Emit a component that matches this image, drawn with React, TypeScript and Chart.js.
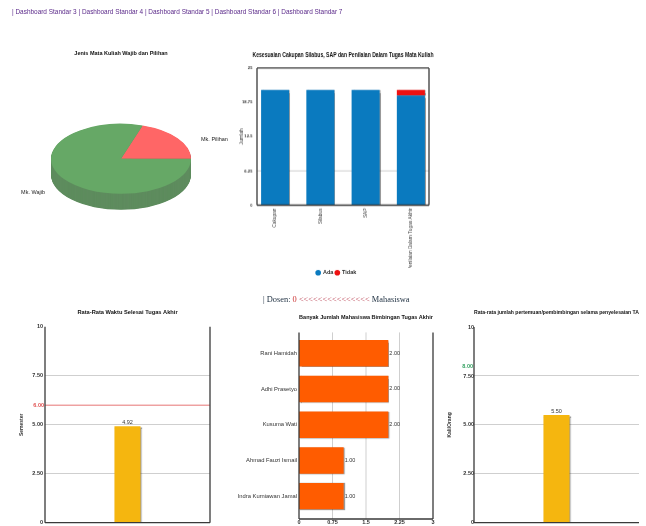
import React, { useEffect, useRef } from "react";
import { Chart, registerables } from "chart.js";
Chart.register(...registerables);

const navLinks = ["Dashboard Standar 3", "Dashboard Standar 4", "Dashboard Standar 5", "Dashboard Standar 6", "Dashboard Standar 7"];

const pieLabels = ["Mk. Pilihan", "Mk. Wajib"];
const pieValues = [20, 80];
const pieColors = ["#ff6666", "#66a866"];
const pieSideColors = ["#bb5555", "#5e8c5e"];

const coverageLabels = ["Cakupan", "Silabus", "SAP", "Penilaian Dalam Tugas Akhir"];
const coverageYes = [21, 21, 21, 20];
const coverageNo = [0, 0, 0, 1];
const coverageTicks = [0, 6.25, 12.5, 18.75, 25];

const waktuLabels = ["Rata-rata"];
const waktuValues = [4.92];
const waktuTarget = 6;

const dosenNames = ["Rani Hamidah", "Adhi Prasetyo", "Kusuma Wati", "Ahmad Fauzi Ismail", "Indra Kurniawan Jamal"];
const dosenCounts = [2, 2, 2, 1, 1];
const dosenTicks = [0, 0.75, 1.5, 2.25, 3];

const pertemuanLabels = ["Rata-rata"];
const pertemuanValues = [5.5];
const pertemuanTarget = 8;

const verticalTicks = [0, 2.5, 5, 7.5, 10];

const FONT = "'Liberation Sans'";
const tickFont = { family: FONT, size: 5.5, weight: "bold" as const };
const DARK = "#3a3a3a";
const GRID = "#cfcfcf";

const valueLabels = (fmt: (v: number) => string) => ({
  id: "valueLabels",
  afterDatasetsDraw(chart: any) {
    const ctx = chart.ctx;
    const horizontal = chart.options.indexAxis === "y";
    ctx.save();
    ctx.fillStyle = "#333";
    ctx.font = `5.5px ${FONT}`;
    chart.getDatasetMeta(0).data.forEach((el: any, i: number) => {
      const v = chart.data.datasets[0].data[i];
      if (horizontal) {
        ctx.textAlign = "left";
        ctx.textBaseline = "middle";
        ctx.fillText(fmt(v), el.x + 1, el.y);
      } else {
        ctx.textAlign = "center";
        ctx.textBaseline = "bottom";
        ctx.fillText(fmt(v), el.x, el.y - 1);
      }
    });
    ctx.restore();
  },
});

const barShadow = {
  id: "barShadow",
  beforeDatasetsDraw(chart: any) {
    chart.ctx.save();
    chart.ctx.shadowColor = "rgba(0,0,0,0.4)";
    chart.ctx.shadowOffsetX = 1;
    chart.ctx.shadowOffsetY = 0.5;
    chart.ctx.shadowBlur = 1;
  },
  afterDatasetsDraw(chart: any) {
    chart.ctx.restore();
  },
};

type Inset = { x?: number; top?: number; bottom?: number };

const axisFrame = (sides: string[], inset: Inset = {}) => ({
  id: "axisFrame",
  afterDraw(chart: any) {
    const { ctx, chartArea: a } = chart;
    const l = a.left + (inset.x || 0);
    const r = a.right - (inset.x || 0);
    const t = a.top - (inset.top || 0);
    const b = a.bottom + (inset.bottom || 0);
    ctx.save();
    ctx.strokeStyle = DARK;
    ctx.lineWidth = 1.3;
    ctx.beginPath();
    if (sides.includes("l")) { ctx.moveTo(l, t); ctx.lineTo(l, b); }
    if (sides.includes("b")) { ctx.moveTo(l, b); ctx.lineTo(r, b); }
    if (sides.includes("r")) { ctx.moveTo(r, t); ctx.lineTo(r, b); }
    if (sides.includes("t")) { ctx.moveTo(l, t); ctx.lineTo(r, t); }
    ctx.stroke();
    ctx.restore();
  },
});

const customGrid = (axis: "x" | "y", values: number[], inset: Inset = {}) => ({
  id: "customGrid",
  beforeDatasetsDraw(chart: any) {
    const { ctx, chartArea: a, scales } = chart;
    ctx.save();
    ctx.strokeStyle = GRID;
    ctx.lineWidth = 1;
    ctx.beginPath();
    values.forEach((v) => {
      const p = scales[axis].getPixelForValue(v);
      if (axis === "y") {
        ctx.moveTo(a.left + (inset.x || 0), p);
        ctx.lineTo(a.right - (inset.x || 0), p);
      } else {
        ctx.moveTo(p, a.top - (inset.top || 0));
        ctx.lineTo(p, a.bottom + (inset.bottom || 0));
      }
    });
    ctx.stroke();
    ctx.restore();
  },
});

const targetLine = (value: number, color: string, drawLine: boolean) => ({
  id: "targetLine",
  afterDatasetsDraw(chart: any) {
    const { ctx, chartArea: a, scales } = chart;
    const y = scales.y.getPixelForValue(value);
    ctx.save();
    if (drawLine) {
      ctx.strokeStyle = color;
      ctx.lineWidth = 0.8;
      ctx.beginPath();
      ctx.moveTo(a.left, y);
      ctx.lineTo(a.right, y);
      ctx.stroke();
    }
    ctx.fillStyle = color;
    ctx.font = `bold 5.5px ${FONT}`;
    ctx.textAlign = "right";
    ctx.textBaseline = "middle";
    ctx.fillText(value.toFixed(2), a.left - 1, y);
    ctx.restore();
  },
});

const pie3d = {
  id: "pie3d",
  beforeDatasetDraw(chart: any) {
    const { ctx } = chart;
    const el = chart.getDatasetMeta(0).data[0];
    const squash = 0.5;
    const cx = el.x;
    const cy = el.y;
    const r = el.outerRadius;
    const depth = 16;
    ctx.save();
    ctx.translate(cx, cy);
    ctx.scale(1, squash);
    ctx.translate(-cx, -cy);
    chart.getDatasetMeta(0).data.forEach((arc: any, i: number) => {
      ctx.fillStyle = pieSideColors[i];
      for (let d = depth; d > 0; d -= 0.5) {
        ctx.beginPath();
        ctx.moveTo(cx, cy + d / squash);
        ctx.arc(cx, cy + d / squash, r, arc.startAngle, arc.endAngle);
        ctx.closePath();
        ctx.fill();
      }
    });
  },
  afterDatasetDraw(chart: any) {
    chart.ctx.restore();
  },
  afterDraw(chart: any) {
    const { ctx } = chart;
    const el = chart.getDatasetMeta(0).data[0];
    ctx.save();
    ctx.fillStyle = "#222";
    ctx.font = `5.5px ${FONT}`;
    ctx.textBaseline = "middle";
    ctx.textAlign = "left";
    ctx.fillText(pieLabels[0], el.x + el.outerRadius + 10, el.y - 19);
    ctx.textAlign = "right";
    ctx.fillText(pieLabels[1], el.x - el.outerRadius - 6, el.y + 34);
    ctx.restore();
  },
};

function Panel({ left, top, width, height, config }: any) {
  const ref = useRef<HTMLCanvasElement>(null);
  useEffect(() => {
    const chart = new Chart(ref.current!, config);
    return () => chart.destroy();
  }, [config]);
  return (
    <div style={{ position: "absolute", left, top, width, height }}>
      <canvas ref={ref} />
    </div>
  );
}

const titleOpts = (text: string, size: number, bottom: number) => ({
  display: true,
  text,
  fullSize: false,
  font: { family: FONT, size, weight: "bold" as const },
  color: "#111",
  padding: { top: 0, bottom },
});

const base = (title: any, extra: any = {}, legend: any = { display: false }) => ({
  animation: false,
  responsive: true,
  maintainAspectRatio: false,
  devicePixelRatio: 1,
  plugins: { legend, tooltip: { enabled: false }, title },
  ...extra,
});

const hideGrid = { display: false, drawTicks: false };

const pieConfig: any = {
  type: "pie",
  data: { labels: pieLabels, datasets: [{ data: pieValues, backgroundColor: pieColors, borderWidth: 0 }] },
  options: base(titleOpts("Jenis Mata Kuliah Wajib dan Pilihan", 5.5, 0), {
    rotation: 18,
    layout: { padding: { top: 0, left: 51, right: 51, bottom: 0 } },
  }),
  plugins: [pie3d],
};

const coverageInset = { x: 4.5 };
const coverageConfig: any = {
  type: "bar",
  data: {
    labels: coverageLabels,
    datasets: [
      { label: "Ada", data: coverageYes, backgroundColor: "#0a7abf", stack: "s", barPercentage: 0.62, categoryPercentage: 1 },
      { label: "Tidak", data: coverageNo, backgroundColor: "#ee1111", stack: "s", barPercentage: 0.62, categoryPercentage: 1 },
    ],
  },
  options: base(
    titleOpts("Kesesuaian Cakupan Silabus, SAP dan Penilaian Dalam Tugas Mata Kuliah", 6.6, 9),
    {
      layout: { padding: { left: 0, right: 8.5, top: 0, bottom: 0 } },
      scales: {
        x: {
          stacked: true,
          grid: hideGrid,
          border: { display: false },
          afterFit: (s: any) => { s.height = 62.5; },
          ticks: { font: { family: FONT, size: 4.8 }, color: "#444", minRotation: 90, maxRotation: 90, padding: 3 },
        },
        y: {
          stacked: true,
          min: 0,
          max: 25,
          afterBuildTicks: (s: any) => { s.ticks = coverageTicks.map((value) => ({ value })); },
          afterFit: (s: any) => { s.width = 13.5; },
          grid: hideGrid,
          border: { display: false },
          ticks: { font: { family: FONT, size: 4.2, weight: "bold" }, color: "#333", padding: 0, callback: (v: number) => String(v) },
          title: { display: true, text: "Jumlah", font: { family: FONT, size: 5 }, color: "#333", padding: 0 },
        },
      },
    },
    {
      display: true,
      position: "bottom",
      labels: { boxWidth: 4, boxHeight: 4, padding: 2, font: { family: FONT, size: 5.5, weight: "bold" }, color: "#333", usePointStyle: true },
    }
  ),
  plugins: [customGrid("y", [6.25], coverageInset), barShadow, axisFrame(["l", "b", "r", "t"], coverageInset)],
};

const verticalScales = (yTitle: string, yWidth: number, tickPad: number) => ({
  x: { grid: hideGrid, border: { display: false }, ticks: { display: false }, afterFit: (s: any) => { s.height = 0; } },
  y: {
    min: 0,
    max: 10,
    afterBuildTicks: (s: any) => { s.ticks = verticalTicks.map((value) => ({ value })); },
    afterFit: (s: any) => { s.width = yWidth; },
    grid: { color: (c: any) => (c.tick.value > 0 && c.tick.value < 10 ? GRID : "transparent"), drawTicks: false },
    border: { display: false },
    ticks: {
      font: tickFont,
      color: "#333",
      padding: tickPad,
      callback: (v: number) => (v === 0 ? "0" : v === 10 ? "10" : v.toFixed(2)),
    },
    title: { display: true, text: yTitle, font: { family: FONT, size: 5, weight: "bold" }, color: "#333", padding: 0 },
  },
});

const waktuConfig: any = {
  type: "bar",
  data: { labels: waktuLabels, datasets: [{ data: waktuValues, backgroundColor: "#f5b60f", barPercentage: 0.158, categoryPercentage: 1 }] },
  options: base(titleOpts("Rata-Rata Waktu Selesai Tugas Akhir", 5.7, 11), {
    layout: { padding: { left: 0, right: 30, top: 0, bottom: 0 } },
    scales: verticalScales("Semester", 26, 2),
  }),
  plugins: [barShadow, valueLabels((v) => v.toFixed(2)), axisFrame(["l", "b", "r"]), targetLine(waktuTarget, "#e05050", true)],
};

const dosenInset = { top: 3, bottom: 5 };
const dosenConfig: any = {
  type: "bar",
  data: { labels: dosenNames, datasets: [{ data: dosenCounts, backgroundColor: "#ff5c00", barPercentage: 0.74, categoryPercentage: 1 }] },
  options: base(titleOpts("Banyak Jumlah Mahasiswa Bimbingan Tugas Akhir", 5.5, 14.8), {
    indexAxis: "y",
    layout: { padding: { left: 0, right: 80, top: 0, bottom: 0 } },
    scales: {
      x: {
        min: 0,
        max: 3,
        afterBuildTicks: (s: any) => { s.ticks = dosenTicks.map((value) => ({ value })); },
        afterFit: (s: any) => { s.height = 11; },
        grid: hideGrid,
        border: { display: false },
        ticks: { font: tickFont, color: "#333", padding: 5.5, callback: (v: number) => String(v) },
      },
      y: {
        afterFit: (s: any) => { s.width = 80; },
        grid: hideGrid,
        border: { display: false },
        ticks: { font: { family: FONT, size: 5.8 }, color: "#333", padding: 2 },
      },
    },
  }),
  plugins: [customGrid("x", [0.75, 1.5, 2.25], dosenInset), barShadow, valueLabels((v) => v.toFixed(2)), axisFrame(["l", "b", "r"], dosenInset)],
};

const pertemuanConfig: any = {
  type: "bar",
  data: { labels: pertemuanLabels, datasets: [{ data: pertemuanValues, backgroundColor: "#f5b60f", barPercentage: 0.158, categoryPercentage: 1 }] },
  options: base(titleOpts("Rata-rata jumlah pertemuan/pembimbingan selama penyelesaian TA", 5.9, 11), {
    layout: { padding: { left: 0, right: 27, top: 0, bottom: 0 } },
    scales: verticalScales("Kali/Orang", 27, 0),
  }),
  plugins: [barShadow, valueLabels((v) => v.toFixed(2)), axisFrame(["l", "b"]), targetLine(pertemuanTarget, "#33a060", false)],
};

export default function App() {
  return (
    <div style={{ position: "fixed", left: 0, top: 0, width: 646, height: 526, overflow: "hidden", filter: "blur(0.35px)" }}>
      <div style={{ position: "absolute", left: 12, top: 8, fontFamily: FONT, fontSize: 6.45, color: "#5b2a8a", whiteSpace: "nowrap" }}>
        {navLinks.map((n) => `| ${n} `).join("")}
      </div>
      <div style={{ position: "absolute", left: 263, top: 295, fontFamily: "'Liberation Serif'", fontSize: 8.4, whiteSpace: "nowrap", color: "#234" }}>
        | Dosen: <span style={{ color: "#c33" }}>0 </span>
        <span style={{ color: "#b45" }}>&lt;&lt;&lt;&lt;&lt;&lt;&lt;&lt;&lt;&lt;&lt;&lt;&lt;&lt;&lt;</span> Mahasiswa
      </div>
      <Panel left={0} top={50} width={242} height={211} config={pieConfig} />
      <Panel left={239} top={51} width={203} height={233.5} config={coverageConfig} />
      <Panel left={19} top={309} width={221} height={219} config={waktuConfig} />
      <Panel left={219} top={314} width={294} height={211} config={dosenConfig} />
      <Panel left={447} top={309} width={219} height={217} config={pertemuanConfig} />
    </div>
  );
}
